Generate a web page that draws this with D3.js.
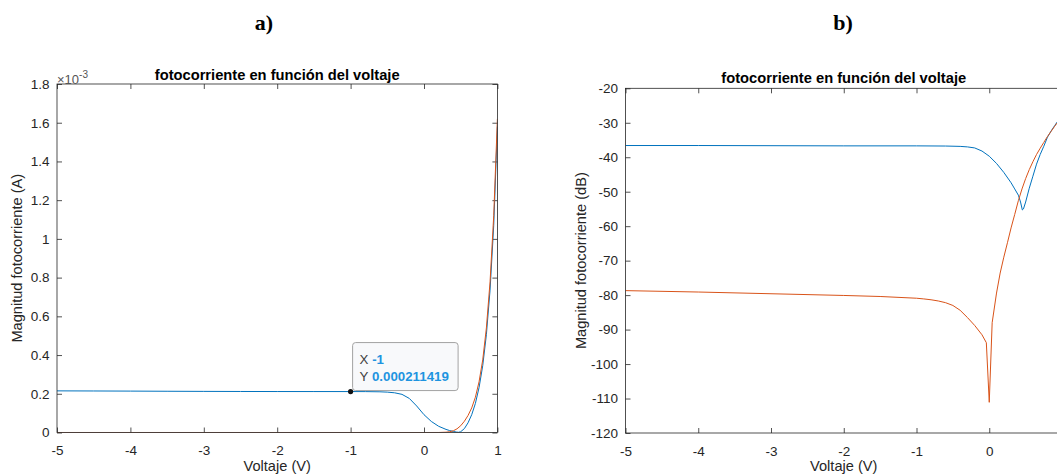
<!DOCTYPE html>
<html>
<head>
<meta charset="utf-8">
<script src="https://cdnjs.cloudflare.com/ajax/libs/d3/7.8.5/d3.min.js"></script>
<style>
  html, body { margin: 0; padding: 0; background: #ffffff; }
  svg { display: block; }
  text { font-family: "Liberation Sans", Arial, Helvetica, sans-serif; }
</style>
</head>
<body>
<script>
// ---- Shared x axis ----
const xTicks = [-5, -4, -3, -2, -1, 0, 1];
const xTickLabels = ["-5", "-4", "-3", "-2", "-1", "0", "1"];

// ---- Panel a): photocurrent magnitude in amperes ----
const yTicksA = [0, 0.2e-3, 0.4e-3, 0.6e-3, 0.8e-3, 1.0e-3, 1.2e-3, 1.4e-3, 1.6e-3, 1.8e-3];
const yTickLabelsA = ["0", "0.2", "0.4", "0.6", "0.8", "1", "1.2", "1.4", "1.6", "1.8"];

// illuminated diode |I| (A)
const blueLinV = [-5, -4.5, -4, -3.5, -3, -2.5, -2, -1.5, -1, -0.8, -0.6, -0.5, -0.4, -0.3, -0.2, -0.1,
  0, 0.1, 0.2, 0.3, 0.35, 0.4, 0.44, 0.47, 0.5, 0.55, 0.6, 0.65, 0.7, 0.75, 0.8, 0.85, 0.9, 0.95, 1];
const blueLinI = [0.0002150, 0.0002145, 0.0002138, 0.0002130, 0.0002124, 0.0002119, 0.0002116, 0.0002115,
  0.000211419, 0.0002112, 0.0002102, 0.0002085, 0.0002050, 0.0001970, 0.0001760, 0.0001370,
  0.0000920, 0.0000570, 0.0000320, 0.0000160, 0.0000100, 0.0000055, 0.0000025, 0.0000010,
  0.0000040, 0.0000200, 0.0000500, 0.0000920, 0.0001500, 0.0002320, 0.0003450, 0.0005050,
  0.0007350, 0.0010700, 0.0015800];

// dark diode |I| (A)
const orangeLinV = [-5, -4, -3, -2, -1, 0, 0.2, 0.3, 0.35, 0.4, 0.45, 0.5, 0.55, 0.6, 0.65, 0.7, 0.75,
  0.8, 0.85, 0.9, 0.95, 1];
const orangeLinI = [0.0000000135, 0.0000000123, 0.0000000110, 0.0000000098, 0.0000000081, 0,
  0.0000001, 0.0000015, 0.0000040, 0.0000090, 0.0000190, 0.0000350, 0.0000580, 0.0000880,
  0.0001270, 0.0001820, 0.0002620, 0.0003750, 0.0005400, 0.0007780, 0.0011200, 0.0016200];

// data tip on the illuminated curve
const tipV = -1;
const tipI = 0.000211419;

// ---- Panel b): photocurrent magnitude in dB ----
const yTicksB = [-120, -110, -100, -90, -80, -70, -60, -50, -40, -30, -20];
const yTickLabelsB = ["-120", "-110", "-100", "-90", "-80", "-70", "-60", "-50", "-40", "-30", "-20"];

const blueDbV = [-5, -4, -3, -2, -1, -0.6, -0.4, -0.3, -0.2, -0.1, 0, 0.1, 0.2, 0.3, 0.35, 0.4, 0.43,
  0.455, 0.47, 0.5, 0.55, 0.6, 0.65, 0.7, 0.75, 0.8, 0.85, 0.9, 0.95, 1];
const blueDb = [-36.6, -36.6, -36.65, -36.7, -36.7, -36.75, -36.85, -37.0, -37.3, -38.2, -39.7, -41.8,
  -44.4, -47.4, -49.2, -51.0, -53.0, -55.3, -55.0, -53.0, -49.0, -45.5, -42.0, -39.2, -36.8, -34.2,
  -32.4, -30.8, -29.3, -28.0];

const orangeDbV = [-5, -4, -3, -2, -1.5, -1, -0.9, -0.8, -0.7, -0.6, -0.5, -0.4, -0.3, -0.2, -0.1,
  -0.04, 0, 0.04, 0.1, 0.15, 0.2, 0.25, 0.3, 0.35, 0.4, 0.45, 0.5, 0.55, 0.6, 0.65, 0.7, 0.75, 0.8,
  0.85, 0.9, 0.95, 1];
const orangeDb = [-78.7, -79.1, -79.6, -80.1, -80.4, -80.9, -81.1, -81.35, -81.7, -82.2, -83.0, -84.4,
  -86.5, -88.8, -91.5, -93.8, -111.1, -88.0, -79.4, -73.6, -69.0, -64.8, -60.5, -56.6, -52.6, -49.2,
  -46.2, -43.6, -41.3, -39.2, -37.4, -35.7, -34.0, -32.5, -31.0, -29.6, -28.2];

const titleText = "fotocorriente en función del voltaje";
const xLabel = "Voltaje (V)";
const yLabelA = "Magnitud fotocorriente (A)";
const yLabelB = "Magnitud fotocorriente (dB)";

const BLUE = "#0072BD";
const ORANGE = "#D95319";
const AXIS = "#262626";
const WIDTH = 1057, HEIGHT = 475;

const svg = d3.select("body").append("svg")
  .attr("width", WIDTH).attr("height", HEIGHT);

function zip(xs, ys) { return xs.map((v, i) => [v, ys[i]]); }

function drawPanel(cfg) {
  const x = d3.scaleLinear().domain([-5, 1]).range([cfg.left, cfg.right]);
  const y = d3.scaleLinear().domain(cfg.yDomain).range([cfg.bottom, cfg.top]);
  const g = svg.append("g");

  // plot clip
  g.append("clipPath").attr("id", cfg.id + "-clip")
    .append("rect")
    .attr("x", cfg.left).attr("y", cfg.top)
    .attr("width", cfg.right - cfg.left).attr("height", cfg.bottom - cfg.top);

  const styleAxis = sel => {
    sel.select(".domain").remove();
    sel.selectAll(".tick line").attr("stroke", AXIS).attr("stroke-width", 0.8);
    sel.selectAll(".tick text").attr("fill", AXIS).style("font-size", "13.5px");
  };

  // tick labels that would fall past the page edge are left blank
  const xFmt = (d, i) => (x(d) + 4 <= WIDTH ? xTickLabels[i] : "");

  // bottom + top
  g.append("g").attr("transform", `translate(0,${cfg.bottom})`)
    .call(d3.axisBottom(x).tickValues(xTicks).tickSize(-5).tickPadding(13).tickFormat(xFmt))
    .call(styleAxis);
  g.append("g").attr("transform", `translate(0,${cfg.top})`)
    .call(d3.axisTop(x).tickValues(xTicks).tickSize(-5).tickFormat(""))
    .call(styleAxis);
  // left + right
  g.append("g").attr("transform", `translate(${cfg.left},0)`)
    .call(d3.axisLeft(y).tickValues(cfg.yTicks).tickSize(-5).tickPadding(7.5)
      .tickFormat((d, i) => cfg.yTickLabels[i]))
    .call(styleAxis);
  g.append("g").attr("transform", `translate(${cfg.right},0)`)
    .call(d3.axisRight(y).tickValues(cfg.yTicks).tickSize(-5).tickFormat(""))
    .call(styleAxis);

  // lines
  const line = d3.line().x(d => x(d[0])).y(d => y(d[1]));
  const plot = g.append("g").attr("clip-path", `url(#${cfg.id}-clip)`);
  cfg.series.forEach(s => {
    plot.append("path")
      .attr("d", line(zip(s.xs, s.ys)))
      .attr("fill", "none")
      .attr("stroke", s.color)
      .attr("stroke-width", 1)
      .attr("stroke-linejoin", "round");
  });

  // box
  g.append("rect")
    .attr("x", cfg.left).attr("y", cfg.top)
    .attr("width", cfg.right - cfg.left).attr("height", cfg.bottom - cfg.top)
    .attr("fill", "none").attr("stroke", AXIS).attr("stroke-width", 0.8);

  const cx = (cfg.left + cfg.right) / 2;
  // title
  g.append("text").attr("x", cx).attr("y", cfg.titleY)
    .attr("text-anchor", "middle").attr("font-weight", "bold")
    .style("font-size", "14.7px").attr("fill", "#000")
    .text(titleText);
  // x label
  g.append("text").attr("x", cx).attr("y", 471)
    .attr("text-anchor", "middle").style("font-size", "14.6px").attr("fill", AXIS)
    .text(xLabel);
  // y label
  const cy = (cfg.top + cfg.bottom) / 2;
  g.append("text")
    .attr("transform", `translate(${cfg.yLabelX},${cy}) rotate(-90)`)
    .attr("text-anchor", "middle").style("font-size", "14.6px").attr("fill", AXIS)
    .text(cfg.yLabel);

  // panel letter
  svg.append("text").attr("x", cfg.letterX).attr("y", 30)
    .attr("text-anchor", "middle")
    .style("font-family", "'Liberation Serif', 'Times New Roman', serif")
    .style("font-size", "22px").attr("font-weight", "bold").attr("fill", "#000")
    .text(cfg.letter);

  return { x, y, g };
}

const pa = drawPanel({
  id: "pa", left: 57, right: 497.4, top: 84, bottom: 432.5, titleY: 80,
  yDomain: [0, 1.8e-3], yTicks: yTicksA, yTickLabels: yTickLabelsA,
  yLabel: yLabelA, yLabelX: 22, letter: "a)", letterX: 264,
  series: [
    { xs: blueLinV, ys: blueLinI, color: BLUE },
    { xs: orangeLinV, ys: orangeLinI, color: ORANGE }
  ]
});

// exponent label of panel a
const expLabel = pa.g.append("text").attr("x", 57).attr("y", 84)
  .style("font-size", "13px").attr("fill", "#555");
expLabel.append("tspan").text("\u00d710");
expLabel.append("tspan").attr("dy", -6).style("font-size", "10px").text("-3");

// data tip
const tx = pa.x(tipV), ty = pa.y(tipI);
const tip = pa.g.append("g");
tip.append("rect")
  .attr("x", tx + 2).attr("y", ty - 49)
  .attr("width", 105.5).attr("height", 48)
  .attr("rx", 3).attr("ry", 3)
  .attr("fill", "#f8f9fb").attr("stroke", "#a3a3a3").attr("stroke-width", 1);
const t1 = tip.append("text").attr("x", tx + 9).attr("y", ty - 28)
  .style("font-size", "13.3px");
t1.append("tspan").attr("fill", "#404040").text("X ");
t1.append("tspan").attr("fill", "#1e94e0").attr("font-weight", "bold").text(String(tipV));
const t2 = tip.append("text").attr("x", tx + 9).attr("y", ty - 11)
  .style("font-size", "13.3px");
t2.append("tspan").attr("fill", "#404040").text("Y ");
t2.append("tspan").attr("fill", "#1e94e0").attr("font-weight", "bold").text(String(tipI));
tip.append("circle").attr("cx", tx).attr("cy", ty).attr("r", 2.6).attr("fill", "#111");

drawPanel({
  id: "pb", left: 625.5, right: 1062, top: 88.3, bottom: 433, titleY: 82.5,
  yDomain: [-120, -20], yTicks: yTicksB, yTickLabels: yTickLabelsB,
  yLabel: yLabelB, yLabelX: 586, letter: "b)", letterX: 843,
  series: [
    { xs: blueDbV, ys: blueDb, color: BLUE },
    { xs: orangeDbV, ys: orangeDb, color: ORANGE }
  ]
});
</script>
</body>
</html>
